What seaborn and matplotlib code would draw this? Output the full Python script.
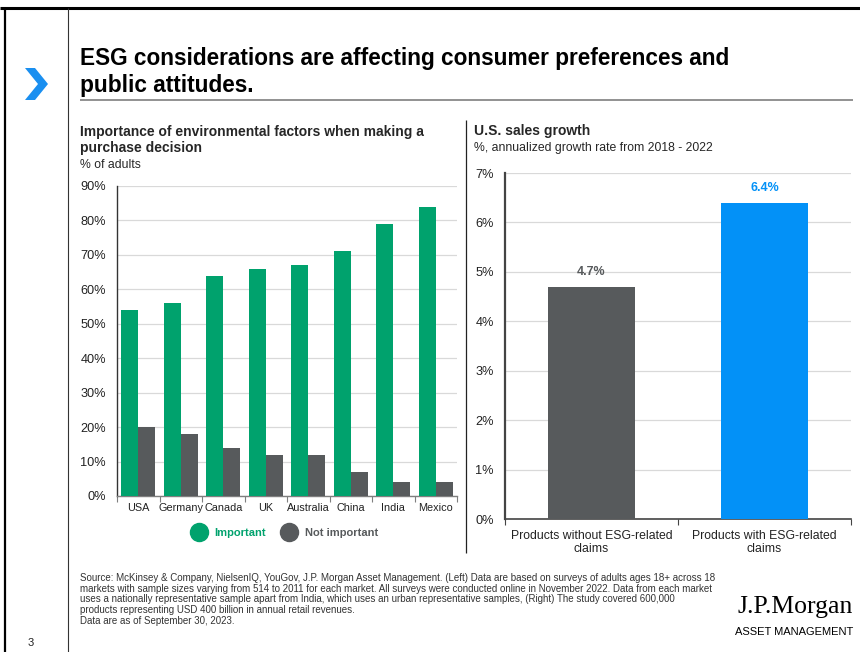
import matplotlib
matplotlib.use("Agg")
import matplotlib.pyplot as plt
import seaborn as sns
import pandas as pd
import numpy as np
from matplotlib.lines import Line2D
from matplotlib.patches import Polygon
from matplotlib.ticker import FixedLocator

# ---------------- data ----------------
countries = ["USA", "Germany", "Canada", "UK", "Australia", "China", "India", "Mexico"]
important = [54, 56, 64, 66, 67, 71, 79, 84]
not_important = [20, 18, 14, 12, 12, 7, 4, 4]
left_yticks = [0, 10, 20, 30, 40, 50, 60, 70, 80, 90]

products = ["Products without ESG-related\nclaims", "Products with ESG-related\nclaims"]
growth = [4.7, 6.4]
right_yticks = [0, 1, 2, 3, 4, 5, 6, 7]

GREEN = "#00A26D"
GRAY = "#575A5C"
BLUE = "#0391F7"
GRID = "#D9D9D9"

sns.set_theme(style="white")
plt.rcParams["font.family"] = ["Liberation Sans", "DejaVu Sans"]
NARROW = ["Liberation Sans Narrow", "Liberation Sans", "DejaVu Sans"]

W, H = 860, 652
fig = plt.figure(figsize=(W / 100, H / 100), dpi=100)


def fx(x):
    return x / W


def fy(y):
    return 1 - y / H


def hline(x0, x1, y, color, lw):
    fig.add_artist(Line2D([fx(x0), fx(x1)], [fy(y), fy(y)], transform=fig.transFigure,
                          color=color, lw=lw, solid_capstyle="butt"))


def vline(x, y0, y1, color, lw):
    fig.add_artist(Line2D([fx(x), fx(x)], [fy(y0), fy(y1)], transform=fig.transFigure,
                          color=color, lw=lw, solid_capstyle="butt"))


# frame lines
hline(0, 860, 8, "black", 2.2)
vline(5, 8, 652, "black", 1.6)
vline(68, 8, 652, "#333333", 0.8)
hline(80, 853, 100, "#7F7F7F", 1.2)
vline(466, 120, 553, "#222222", 0.9)

# chevron
chev = [(25, 68), (35, 68), (48, 84), (35, 100), (25, 100), (38, 84)]
fig.add_artist(Polygon([(fx(a), fy(b)) for a, b in chev], closed=True,
                       transform=fig.transFigure, color="#1A8FF0", lw=0))

# main title
fig.text(fx(80), fy(72), "ESG considerations are affecting consumer preferences and\npublic attitudes.",
         family=NARROW, fontsize=16.3, fontweight="bold", color="black", va="center", ha="left",
         linespacing=1.2)

# ---------------- left chart ----------------
fig.text(fx(80), fy(140), "Importance of environmental factors when making a\npurchase decision",
         fontsize=10, fontweight="bold", va="center", ha="left", linespacing=1.15)
fig.text(fx(80), fy(165), "% of adults", fontsize=8.8, va="center", ha="left")

axL = fig.add_axes([fx(117), fy(496), (457 - 117) / W, (496 - 186) / H])
dfL = pd.DataFrame({
    "Country": countries * 2,
    "Value": important + not_important,
    "Series": ["Important"] * len(countries) + ["Not important"] * len(countries),
})
sns.barplot(data=dfL, x="Country", y="Value", hue="Series", order=countries,
            palette={"Important": GREEN, "Not important": GRAY}, ax=axL, saturation=1,
            width=0.8, linewidth=0, legend=False, zorder=3)
axL.set_ylim(0, 90)
axL.set_xlim(-0.5, len(countries) - 0.5)
axL.set_yticks(left_yticks)
axL.set_yticklabels([f"{v}%" for v in left_yticks])
axL.yaxis.grid(True, color=GRID, lw=0.9, zorder=0)
axL.set_axisbelow(True)
axL.set_xlabel("")
axL.set_ylabel("")
for s in ["top", "right"]:
    axL.spines[s].set_visible(False)
axL.spines["left"].set_color("#333333")
axL.spines["left"].set_linewidth(1.0)
axL.spines["bottom"].set_color("#7F7F7F")
axL.spines["bottom"].set_linewidth(1.0)
axL.tick_params(axis="y", length=0, labelsize=9.2, pad=8, colors="#222222")
axL.tick_params(axis="x", which="major", length=0, labelsize=7.8, pad=5, colors="#222222")
axL.xaxis.set_minor_locator(FixedLocator(np.arange(-0.5, len(countries), 1.0)))
axL.tick_params(axis="x", which="minor", length=4, width=0.8, color="#7F7F7F", bottom=True)

handles = [Line2D([], [], marker="o", ls="", markersize=13, color=GREEN),
           Line2D([], [], marker="o", ls="", markersize=13, color=GRAY)]
leg = fig.legend(handles, ["Important", "Not important"], loc="center",
                 bbox_to_anchor=(fx(283), fy(533)), ncol=2, frameon=False,
                 prop={"size": 8.0, "weight": "bold"}, handletextpad=0.4, columnspacing=1.1)
for t, c in zip(leg.get_texts(), [GREEN, GRAY]):
    t.set_color(c)

# ---------------- right chart ----------------
fig.text(fx(474), fy(131), "U.S. sales growth", fontsize=10, fontweight="bold", va="center", ha="left")
fig.text(fx(474), fy(148), "%, annualized growth rate from 2018 - 2022", fontsize=8.8,
         va="center", ha="left")

axR = fig.add_axes([fx(505), fy(519), (851 - 505) / W, (519 - 173) / H])
dfR = pd.DataFrame({"Product": products, "Growth": growth})
sns.barplot(data=dfR, x="Product", y="Growth", hue="Product", order=products,
            palette={products[0]: GRAY, products[1]: BLUE}, ax=axR, saturation=1,
            width=0.5, linewidth=0, legend=False, zorder=3)
axR.set_ylim(0, 7)
axR.set_xlim(-0.5, len(products) - 0.5)
axR.set_yticks(right_yticks)
axR.set_yticklabels([f"{v}%" for v in right_yticks])
axR.yaxis.grid(True, color=GRID, lw=0.9, zorder=0)
axR.set_axisbelow(True)
axR.set_xlabel("")
axR.set_ylabel("")
for s in ["top", "right"]:
    axR.spines[s].set_visible(False)
axR.spines["left"].set_color("#444444")
axR.spines["left"].set_linewidth(1.6)
axR.spines["bottom"].set_color("#444444")
axR.spines["bottom"].set_linewidth(1.2)
axR.tick_params(axis="y", length=0, labelsize=9.2, pad=8, colors="#222222")
axR.tick_params(axis="x", which="major", length=0, labelsize=8.8, pad=8, colors="#222222")
axR.xaxis.set_minor_locator(FixedLocator(np.arange(-0.5, len(products), 1.0)))
axR.tick_params(axis="x", which="minor", length=4, width=0.8, color="#444444", bottom=True)
for lbl in axR.get_xticklabels():
    lbl.set_linespacing(1.05)

for cont, col in zip(axR.containers, [GRAY, BLUE]):
    axR.bar_label(cont, labels=[f"{v:.1f}%" for v in cont.datavalues], padding=6,
                  fontsize=9, fontweight="bold", color=col)

# ---------------- footer ----------------
footer = ("Source: McKinsey & Company, NielsenIQ, YouGov, J.P. Morgan Asset Management. (Left) Data are based on surveys of adults ages 18+ across 18\n"
          "markets with sample sizes varying from 514 to 2011 for each market. All surveys were conducted online in November 2022. Data from each market\n"
          "uses a nationally representative sample apart from India, which uses an urban representative samples, (Right) The study covered 600,000\n"
          "products representing USD 400 billion in annual retail revenues.\n"
          "Data are as of September 30, 2023.")
fig.text(fx(80), fy(573), footer, family=NARROW, fontsize=7.0, va="top", ha="left",
         color="#333333", linespacing=1.08)
fig.text(fx(28), fy(643), "3", fontsize=8, va="center", ha="left", color="#222222")
fig.text(fx(853), fy(607), "J.P.Morgan", family=["Liberation Serif", "DejaVu Serif"],
         fontsize=18.5, va="center", ha="right", color="black")
fig.text(fx(853), fy(632), "ASSET MANAGEMENT", family=NARROW, fontsize=8, va="center",
         ha="right", color="black")

fig.savefig("out.png", dpi=100, facecolor="white")
